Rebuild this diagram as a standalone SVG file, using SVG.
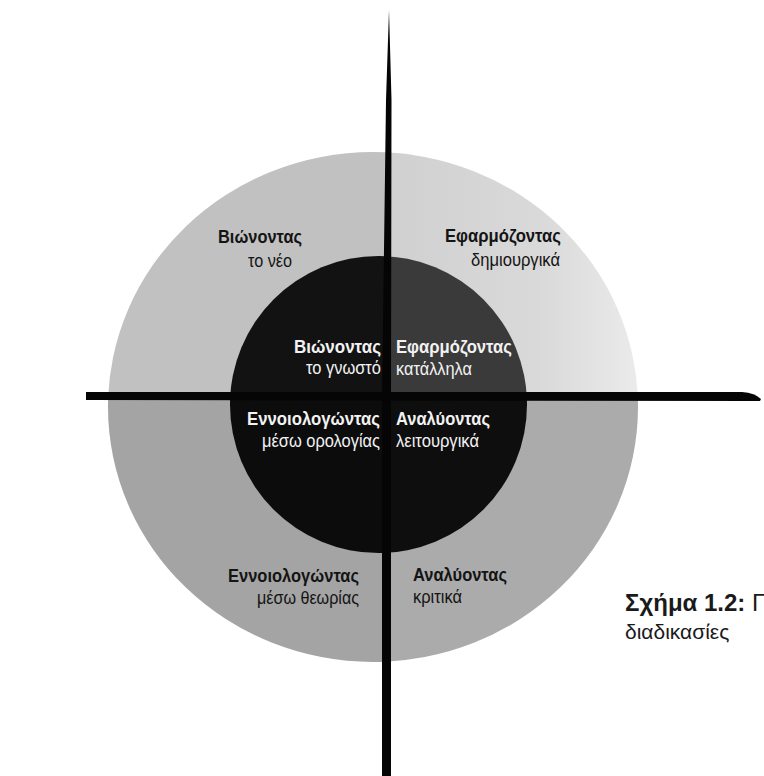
<svg xmlns="http://www.w3.org/2000/svg" width="764" height="776" viewBox="0 0 764 776">
  <style>
    .lbl { font-family: "Liberation Sans", Arial, sans-serif; font-size: 17.5px; }
    .b { font-weight: bold; }
    .dark { fill: #141414; }
    .light { fill: #f2f2f2; }
    .cap { font-family: "Liberation Sans", Arial, sans-serif; fill: #1a1a1a; }
  </style>
  <defs>
    <clipPath id="cTL"><rect x="0" y="0" width="386" height="396"/></clipPath>
    <clipPath id="cTR"><rect x="386" y="0" width="378" height="396"/></clipPath>
    <clipPath id="cBL"><rect x="0" y="396" width="386" height="380"/></clipPath>
    <clipPath id="cBR"><rect x="386" y="396" width="378" height="380"/></clipPath>
    <linearGradient id="gTR" x1="386" y1="0" x2="640" y2="0" gradientUnits="userSpaceOnUse">
      <stop offset="0" stop-color="#d0d0d0"/>
      <stop offset="0.6" stop-color="#d9d9d9"/>
      <stop offset="1" stop-color="#ebebeb"/>
    </linearGradient>
  </defs>
  <rect width="764" height="776" fill="#ffffff"/>

  <g id="outer-top-left">
    <ellipse cx="373" cy="407" rx="265" ry="255" fill="#c1c1c1" clip-path="url(#cTL)"/>
  </g>
  <g id="outer-top-right">
    <ellipse cx="373" cy="407" rx="265" ry="255" fill="url(#gTR)" clip-path="url(#cTR)"/>
  </g>
  <g id="outer-bottom-left">
    <ellipse cx="373" cy="407" rx="265" ry="255" fill="#a4a4a4" clip-path="url(#cBL)"/>
  </g>
  <g id="outer-bottom-right">
    <ellipse cx="373" cy="407" rx="265" ry="255" fill="#ababab" clip-path="url(#cBR)"/>
  </g>

  <g id="inner-top-left">
    <circle cx="378.5" cy="404.5" r="148.5" fill="#121212" clip-path="url(#cTL)"/>
  </g>
  <g id="inner-top-right">
    <circle cx="378.5" cy="404.5" r="148.5" fill="#3a3a3a" clip-path="url(#cTR)"/>
  </g>
  <g id="inner-bottom-left">
    <circle cx="378.5" cy="404.5" r="148.5" fill="#0c0c0c" clip-path="url(#cBL)"/>
  </g>
  <g id="inner-bottom-right">
    <circle cx="378.5" cy="404.5" r="148.5" fill="#0e0e0e" clip-path="url(#cBR)"/>
  </g>

  <g id="connectors" fill="#050505">
    <path d="M389,10 L391.5,100 L391,400 L391,776 L382,776 L382,400 L386,100 Z"/>
    <path d="M86,392 L742,392 Q755,393 761,399 L760,401 L86,400 Z"/>
  </g>

  <g id="label-outer-tl" class="lbl dark">
    <text class="b" x="218" y="243" textLength="84" lengthAdjust="spacingAndGlyphs">Βιώνοντας</text>
    <text x="248" y="267" textLength="44" lengthAdjust="spacingAndGlyphs">το νέο</text>
  </g>
  <g id="label-outer-tr" class="lbl dark">
    <text class="b" x="445" y="242" textLength="116" lengthAdjust="spacingAndGlyphs">Εφαρμόζοντας</text>
    <text x="471" y="266" textLength="89" lengthAdjust="spacingAndGlyphs">δημιουργικά</text>
  </g>
  <g id="label-inner-tl" class="lbl light">
    <text class="b" x="294" y="353" textLength="87" lengthAdjust="spacingAndGlyphs">Βιώνοντας</text>
    <text x="306" y="374" textLength="75" lengthAdjust="spacingAndGlyphs">το γνωστό</text>
  </g>
  <g id="label-inner-tr" class="lbl light">
    <text class="b" x="396" y="353" textLength="116" lengthAdjust="spacingAndGlyphs">Εφαρμόζοντας</text>
    <text x="396" y="375" textLength="76" lengthAdjust="spacingAndGlyphs">κατάλληλα</text>
  </g>
  <g id="label-inner-bl" class="lbl light">
    <text class="b" x="247" y="425" textLength="133" lengthAdjust="spacingAndGlyphs">Εννοιολογώντας</text>
    <text x="262" y="447" textLength="118" lengthAdjust="spacingAndGlyphs">μέσω ορολογίας</text>
  </g>
  <g id="label-inner-br" class="lbl light">
    <text class="b" x="396" y="425" textLength="94" lengthAdjust="spacingAndGlyphs">Αναλύοντας</text>
    <text x="396" y="447" textLength="83" lengthAdjust="spacingAndGlyphs">λειτουργικά</text>
  </g>
  <g id="label-outer-bl" class="lbl dark">
    <text class="b" x="228" y="582" textLength="131" lengthAdjust="spacingAndGlyphs">Εννοιολογώντας</text>
    <text x="257" y="604" textLength="102" lengthAdjust="spacingAndGlyphs">μέσω θεωρίας</text>
  </g>
  <g id="label-outer-br" class="lbl dark">
    <text class="b" x="413" y="581" textLength="94" lengthAdjust="spacingAndGlyphs">Αναλύοντας</text>
    <text x="413" y="603" textLength="49" lengthAdjust="spacingAndGlyphs">κριτικά</text>
  </g>

  <g id="caption">
    <text class="cap" x="625" y="611" font-size="24"><tspan font-weight="bold">Σχήμα 1.2:</tspan> Γ</text>
    <text class="cap" x="625" y="639" font-size="21">διαδικασίες</text>
  </g>
</svg>
